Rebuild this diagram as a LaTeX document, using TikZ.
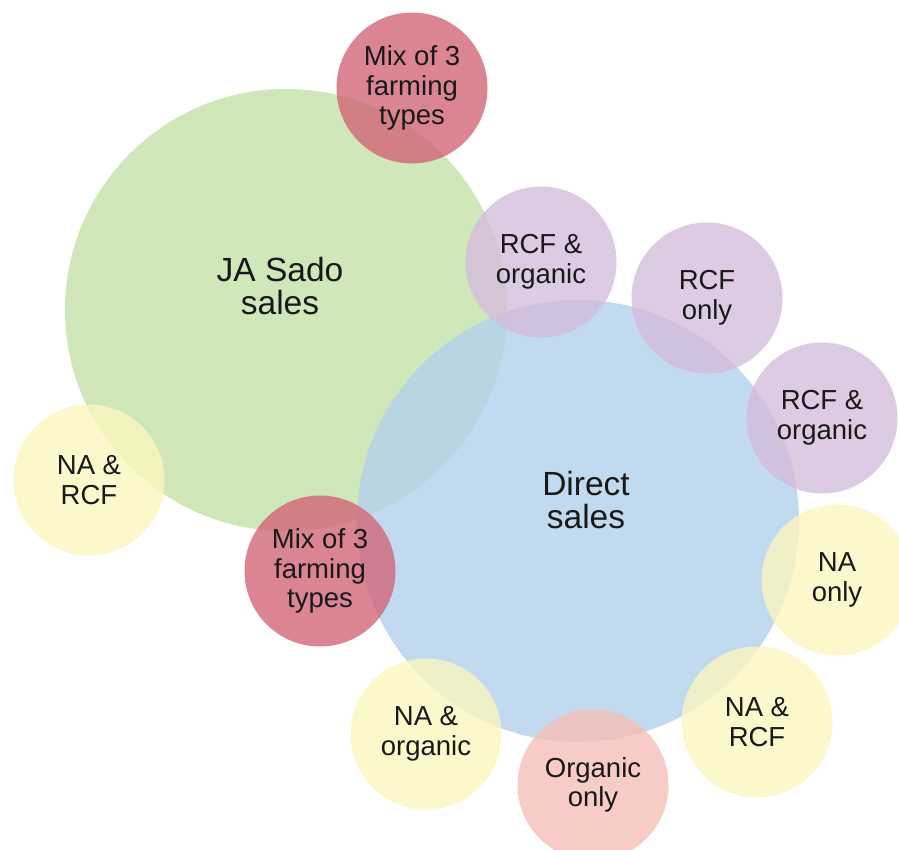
\documentclass[tikz,border=0pt]{standalone}
\usepackage{fontspec}
\setmainfont{Liberation Sans}
\definecolor{jagreen}{RGB}{196,225,167}
\definecolor{directblue}{RGB}{178,209,236}
\definecolor{mixred}{RGB}{210,102,120}
\definecolor{rcfpurple}{RGB}{212,189,220}
\definecolor{nayellow}{RGB}{251,246,191}
\definecolor{orgpink}{RGB}{246,191,184}
\tikzset{
  bigset/.style   = {shape=circle, draw=none, fill opacity=0.8,
                     minimum size=442pt, inner sep=0pt},
  bigtext/.style  = {align=center, text=black!90,
                     font=\fontsize{33.5}{33.5}\selectfont},
  bubble/.style   = {shape=circle, draw=none, fill opacity=0.8,
                     text opacity=1, text=black!90, align=center,
                     minimum size=151pt, inner sep=0pt,
                     font=\fontsize{27.5}{29.5}\selectfont},
  mix/.style      = {bubble, fill=mixred},
  rcf/.style      = {bubble, fill=rcfpurple},
  na/.style       = {bubble, fill=nayellow},
  organic/.style  = {bubble, fill=orgpink}
}

\begin{document}
\begin{tikzpicture}
  [
    x = 1pt,
    y = -1pt
  ]
  \useasboundingbox (0,0) rectangle (899,850);

  % the two sales channels
  \node [bigset, fill=jagreen] (jasado) at (286,310) {};
  \node [bigset, fill=directblue] (direct) at (578,521) {};
  \node [bigtext] (jasadolbl) at ([shift={(-6,-24)}]jasado.center) {JA Sado\\sales};
  \node [bigtext] (directlbl) at ([shift={(8,-21)}]direct.center) {Direct\\sales};

  % farming types
  \node [mix] (mixtop) at (412,88) {Mix of 3\\farming\\types};
  \node [rcf] (rcforgtop) at (541,262) {RCF \&\\organic};
  \node [rcf] (rcfonly) at (707,298) {RCF\\only};
  \node [rcf] (rcforgright) at (822,418) {RCF \&\\organic};
  \node [na] (naonly) at (837,580) {NA\\only};
  \node [na] (narcfright) at (757,722) {NA \&\\RCF};
  \node [organic] (orgonly) at (593,785) {Organic\\only};
  \node [na] (naorg) at (426,734) {NA \&\\organic};
  \node [mix] (mixlow) at (320,571) {Mix of 3\\farming\\types};
  \node [na] (narcfleft) at (89,480) {NA \&\\RCF};
\end{tikzpicture}
\end{document}
